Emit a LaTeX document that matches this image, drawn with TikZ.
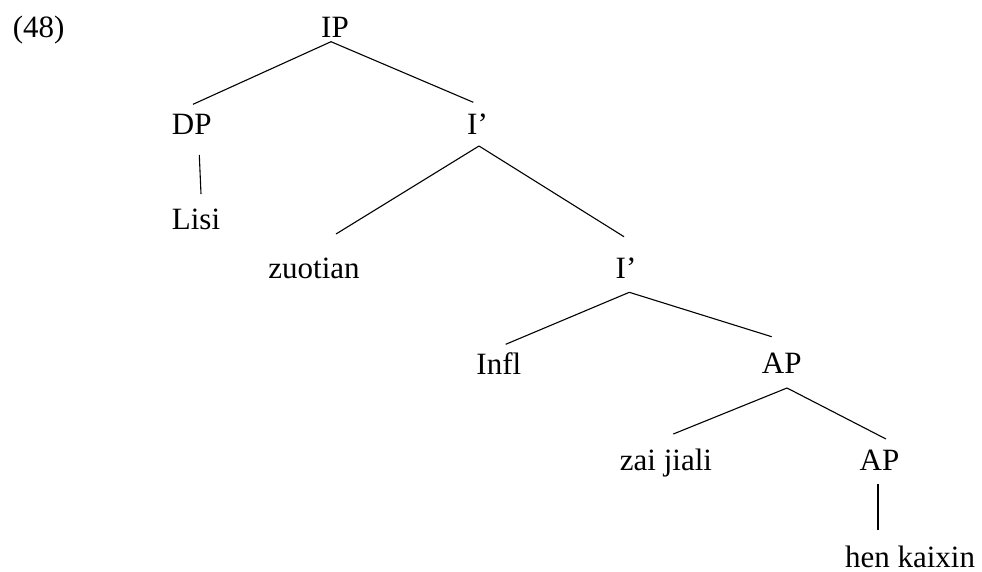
\documentclass[tikz,border=0pt]{standalone}
\usepackage{fontspec}
\setmainfont{Liberation Serif}
\begin{document}
\begin{tikzpicture}[x=1pt,y=-1pt,
  lbl/.style={inner sep=0pt,anchor=base,font=\fontsize{31}{37}\selectfont},
  edge/.style={line width=1.1pt,black}]
\useasboundingbox (0,0) rectangle (982,571);
\node[lbl,anchor=base west] (ex) at (12.7,37) {(48)};
\node[lbl] (IP) at (335,37) {IP};
\node[lbl] (DP) at (191.7,134) {DP};
\node[lbl] (Ib1) at (477.5,134) {I’};
\node[lbl] (Lisi) at (196,229.3) {Lisi};
\node[lbl] (zuo) at (314,278.3) {zuotian};
\node[lbl] (Ib2) at (626,278) {I’};
\node[lbl] (Infl) at (498.8,374) {Infl};
\node[lbl] (AP1) at (781.7,373) {AP};
\node[lbl] (zai) at (666,470.5) {zai jiali};
\node[lbl] (AP2) at (879.5,470) {AP};
\node[lbl] (hen) at (910,567) {hen kaixin};
\draw[edge] ([shift={(-4,4.7)}]IP.base) -- ([shift={(1.3,-29.7)}]DP.base);
\draw[edge] ([shift={(-4,4.7)}]IP.base) -- ([shift={(-4.2,-31.7)}]Ib1.base);
\draw[edge] ([shift={(7.6,21)}]DP.base) -- ([shift={(5,-35.3)}]Lisi.base);
\draw[edge] ([shift={(1.5,12)}]Ib1.base) -- ([shift={(22,-44.3)}]zuo.base);
\draw[edge] ([shift={(1.5,12)}]Ib1.base) -- ([shift={(-2,-41.3)}]Ib2.base);
\draw[edge] ([shift={(3.3,14.3)}]Ib2.base) -- ([shift={(6.9,-29.7)}]Infl.base);
\draw[edge] ([shift={(3.3,14.3)}]Ib2.base) -- ([shift={(-10,-36.3)}]AP1.base);
\draw[edge] ([shift={(5.3,15)}]AP1.base) -- ([shift={(7.3,-36.5)}]zai.base);
\draw[edge] ([shift={(5.3,15)}]AP1.base) -- ([shift={(6.5,-31)}]AP2.base);
\draw[edge] ([shift={(-1.5,14)}]AP2.base) -- ([shift={(-32,-37)}]hen.base);
\end{tikzpicture}
\end{document}
